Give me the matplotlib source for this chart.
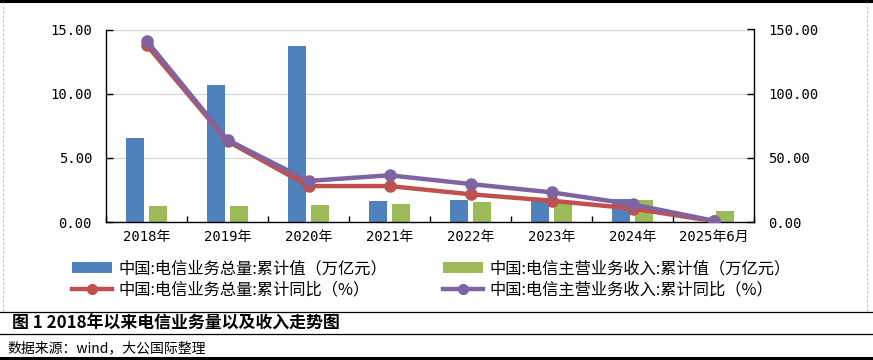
import matplotlib
matplotlib.use("Agg")
import matplotlib.pyplot as plt
import numpy as np
from matplotlib.lines import Line2D
from matplotlib.patches import Patch
from matplotlib.ticker import FormatStrFormatter, FixedLocator

plt.rcParams['font.family'] = ['DejaVu Sans Mono', 'Noto Sans CJK SC']

categories = ['2018年', '2019年', '2020年', '2021年', '2022年', '2023年', '2024年', '2025年6月']
total_volume = [6.57, 10.68, 13.72, 1.64, 1.71, 1.66, 1.79, np.nan]
main_revenue = [1.28, 1.28, 1.33, 1.40, 1.56, 1.45, 1.71, 0.86]
volume_yoy = [138.0, 63.0, 28.0, 28.0, 21.6, 16.6, 10.5, 0.7]
revenue_yoy = [141.3, 64.0, 32.0, 36.4, 29.6, 23.1, 13.8, 1.0]

series_names = ['中国:电信业务总量:累计值（万亿元）', '中国:电信主营业务收入:累计值（万亿元）',
                '中国:电信业务总量:累计同比（%）', '中国:电信主营业务收入:累计同比（%）']

c_blue, c_green, c_red, c_purple = '#4F81BD', '#9BBB59', '#C0504D', '#8064A2'

W, H = 873, 360
fig = plt.figure(figsize=(W / 100, H / 100), dpi=100)

def fx(px):
    return px / W

def fy(py):
    return 1 - py / H

ax = fig.add_axes([fx(106), fy(222), fx(754) - fx(106), fy(29.5) - fy(222)])
ax2 = ax.twinx()

x = np.arange(len(categories))
bw = 0.222
off = 0.142
ax.bar(x - off, total_volume, bw, color=c_blue, zorder=2)
ax.bar(x + off, main_revenue, bw, color=c_green, zorder=2)

ax2.plot(x, volume_yoy, color=c_red, lw=3.2, marker='o', ms=8, zorder=3, solid_capstyle='round')
ax2.plot(x, revenue_yoy, color=c_purple, lw=3.2, marker='o', ms=8, zorder=4, solid_capstyle='round')

ax.set_xlim(-0.5, len(categories) - 0.5)
ax.set_ylim(0, 15)
ax2.set_ylim(0, 150)
ax.set_yticks([0, 5, 10, 15])
ax2.set_yticks([0, 50, 100, 150])
ax.yaxis.set_major_formatter(FormatStrFormatter('%.2f'))
ax2.yaxis.set_major_formatter(FormatStrFormatter('%.2f'))

ax.set_xticks(x)
ax.set_xticklabels(categories)
ax.xaxis.set_minor_locator(FixedLocator(np.arange(-0.5, len(categories), 1.0)))
ax.tick_params(axis='x', which='major', length=0, pad=6, labelsize=10)
ax.tick_params(axis='x', which='minor', direction='in', length=4.5, width=1, color='black')
ax.tick_params(axis='y', direction='in', length=5, width=1, labelsize=10, pad=10)
ax2.tick_params(axis='y', direction='in', length=5, width=1, labelsize=10, pad=10)

ax.grid(axis='y', color='#D9D9D9', lw=1, zorder=0)
ax.set_axisbelow(True)
for a in (ax, ax2):
    a.spines['top'].set_visible(False)
    for s in ('left', 'right', 'bottom'):
        a.spines[s].set_color('black')
        a.spines[s].set_linewidth(1)
ax2.spines['left'].set_visible(False)
ax2.spines['bottom'].set_visible(False)
ax.spines['right'].set_visible(False)

handles = [Patch(facecolor=c_blue), Patch(facecolor=c_green),
           Line2D([], [], color=c_red, lw=3.2, marker='o', ms=7),
           Line2D([], [], color=c_purple, lw=3.2, marker='o', ms=7)]
order = [0, 2, 1, 3]
leg = fig.legend([handles[i] for i in order], [series_names[i] for i in order],
                 ncol=2, loc='center left', bbox_to_anchor=(fx(57), fy(279.5)),
                 frameon=False, handlelength=2.5, handleheight=0.7, handletextpad=0.4,
                 columnspacing=3.4, labelspacing=0.3,
                 prop={'family': ['Noto Sans CJK SC', 'DejaVu Sans'], 'size': 11.7})

# frame lines
fig.add_artist(Line2D([0, 1], [fy(1.2), fy(1.2)], color='black', lw=2.2))
fig.add_artist(Line2D([fx(3), fx(3)], [fy(2), fy(312)], color='#BFBFBF', lw=0.8, ls=(0, (2, 2))))
fig.add_artist(Line2D([fx(867), fx(867)], [fy(2), fy(312)], color='#BFBFBF', lw=0.8, ls=(0, (2, 2))))
fig.add_artist(Line2D([0, 1], [fy(311.5), fy(311.5)], color='black', lw=0.9))
fig.add_artist(Line2D([0, 1], [fy(334), fy(334)], color='black', lw=0.9))
fig.add_artist(Line2D([0, 1], [fy(358), fy(358)], color='black', lw=2.2))

fig.text(fx(12), fy(323.5), '图 1 2018年以来电信业务量以及收入走势图', fontsize=12.2, fontweight='bold',
         va='center', ha='left', family=['Noto Sans CJK SC', 'DejaVu Sans'])
fig.text(fx(7), fy(348.5), '数据来源：wind，大公国际整理', fontsize=10, va='center', ha='left',
         family=['Noto Sans CJK SC', 'DejaVu Sans'])

fig.savefig('out.png', dpi=100)
